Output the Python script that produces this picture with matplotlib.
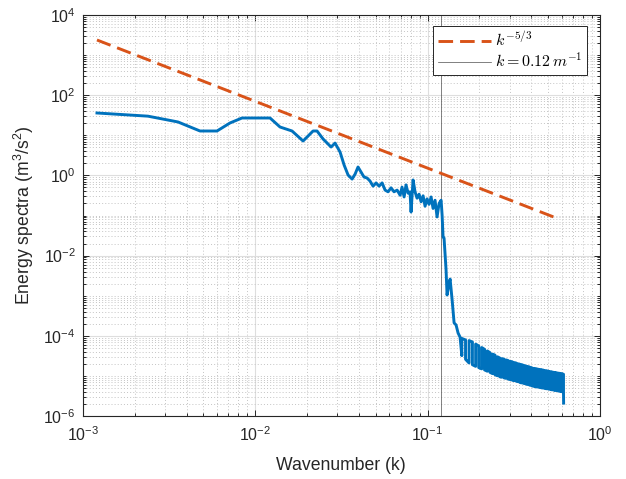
import numpy as np
import matplotlib
matplotlib.use("Agg")
import matplotlib.pyplot as plt
from matplotlib.ticker import FixedLocator, NullFormatter

plt.rcParams['font.family'] = ['Liberation Sans', 'DejaVu Sans']
plt.rcParams['mathtext.fontset'] = 'custom'
plt.rcParams['mathtext.rm'] = 'Liberation Sans'
plt.rcParams['mathtext.it'] = 'Liberation Sans:italic'
plt.rcParams['mathtext.bf'] = 'Liberation Sans:bold'

# energy spectrum
k_low = [0.00121, 0.00239, 0.00357, 0.00479, 0.00601, 0.00715, 0.00839, 0.0122,
         0.01394, 0.01637, 0.01897, 0.02167, 0.02286, 0.02477, 0.02756, 0.02907]
E_low = [36, 30, 21.5, 12.8, 12.8, 20.3, 27, 27,
         16.1, 12.8, 7.2, 12.8, 12.8, 8.1, 5.1, 6.4]

k_mid = [0.0311, 0.0328, 0.0346, 0.0365, 0.0380, 0.0395, 0.0411, 0.0428, 0.0446,
         0.0464, 0.0483, 0.0503, 0.0523, 0.0545, 0.0567, 0.0590, 0.0614, 0.0639,
         0.0666, 0.0693, 0.0711, 0.0731, 0.0750, 0.0771, 0.0791, 0.0802, 0.0824,
         0.0846, 0.0869, 0.0893, 0.0917, 0.0942, 0.0967, 0.0993, 0.1020, 0.1048,
         0.1076, 0.1105, 0.1135, 0.1166, 0.1198, 0.1214, 0.1230, 0.1246, 0.1280,
         0.1297, 0.1333, 0.1351, 0.1388, 0.1425, 0.1463, 0.1503, 0.1543]
E_mid = [3.8, 1.82, 1.02, 0.81, 1.08, 1.62, 1.22, 0.91, 0.86,
         0.72, 0.54, 0.65, 0.54, 0.65, 0.43, 0.39, 0.49, 0.39,
         0.43, 0.32, 0.51, 0.29, 0.58, 0.36, 0.39, 0.122, 0.77,
         0.39, 0.27, 0.34, 0.22, 0.31, 0.17, 0.26, 0.19, 0.29,
         0.15, 0.24, 0.092, 0.20, 0.24, 0.103, 0.029, 0.0275, 0.0044,
         0.00104, 0.0021, 0.0026, 7.8e-4, 2.1e-4, 1.86e-4, 1.17e-4, 9.3e-5]

# dissipation range: fast oscillation, read as top / bottom of the band
k_tail = [0.158, 0.166, 0.174, 0.182, 0.190, 0.198, 0.206, 0.214, 0.222, 0.230,
          0.238, 0.246, 0.254, 0.262, 0.270, 0.278, 0.286, 0.294, 0.302, 0.310,
          0.318, 0.326, 0.334, 0.342, 0.350, 0.358, 0.366, 0.374, 0.382, 0.390,
          0.398, 0.406, 0.414, 0.422, 0.430, 0.438, 0.446, 0.454, 0.462, 0.470,
          0.478, 0.486, 0.494, 0.502, 0.510, 0.518, 0.526, 0.534, 0.542, 0.550,
          0.558, 0.566, 0.574, 0.582, 0.590, 0.598, 0.606, 0.614]
E_tail_hi = [8.6e-5, 7.9e-5, 7.6e-5, 7.0e-5, 6.2e-5, 5.6e-5, 5.1e-5, 4.6e-5, 4.2e-5, 3.8e-5,
             3.5e-5, 3.3e-5, 3.0e-5, 2.8e-5, 2.7e-5, 2.6e-5, 2.5e-5, 2.4e-5, 2.3e-5, 2.25e-5,
             2.15e-5, 2.1e-5, 2.0e-5, 1.97e-5, 1.92e-5, 1.85e-5, 1.79e-5, 1.75e-5, 1.71e-5, 1.67e-5,
             1.62e-5, 1.56e-5, 1.54e-5, 1.52e-5, 1.49e-5, 1.47e-5, 1.45e-5, 1.43e-5, 1.41e-5, 1.39e-5,
             1.36e-5, 1.34e-5, 1.33e-5, 1.31e-5, 1.28e-5, 1.27e-5, 1.25e-5, 1.24e-5, 1.22e-5, 1.21e-5,
             1.19e-5, 1.18e-5, 1.17e-5, 1.16e-5, 1.15e-5, 1.13e-5, 1.12e-5, 1.10e-5]
E_tail_lo = [3.2e-5, 2.6e-5, 2.1e-5, 1.9e-5, 1.73e-5, 1.61e-5, 1.5e-5, 1.41e-5, 1.31e-5, 1.23e-5,
             1.14e-5, 1.07e-5, 1.01e-5, 9.5e-6, 9.3e-6, 8.9e-6, 8.7e-6, 8.3e-6, 8.1e-6, 7.8e-6,
             7.6e-6, 7.4e-6, 7.2e-6, 6.9e-6, 6.7e-6, 6.6e-6, 6.4e-6, 6.2e-6, 6.1e-6, 5.9e-6,
             5.8e-6, 5.6e-6, 5.5e-6, 5.4e-6, 5.3e-6, 5.3e-6, 5.2e-6, 5.1e-6, 5.0e-6, 5.0e-6,
             4.9e-6, 4.8e-6, 4.8e-6, 4.7e-6, 4.7e-6, 4.6e-6, 4.5e-6, 4.5e-6, 4.4e-6, 4.4e-6,
             4.3e-6, 4.3e-6, 4.2e-6, 4.2e-6, 4.1e-6, 4.1e-6, 4.0e-6, 3.9e-6]
k_end = [0.615]
E_end = [2.1e-6]

# k^-5/3 reference line end points
ref_k = [1.21e-3, 0.55]
ref_E = [2380, 0.0887]

k_cut = 0.12

# walk up and down through the band so the oscillation fills it
k_band, E_band = [], []
for i, kk in enumerate(k_tail):
    pair = (E_tail_lo[i], E_tail_hi[i]) if i % 2 == 0 else (E_tail_hi[i], E_tail_lo[i])
    k_band += [kk, kk]
    E_band += list(pair)

k = k_low + k_mid + k_band + k_end
E = E_low + E_mid + E_band + E_end

fig = plt.figure(figsize=(6.26, 4.79), dpi=100)
ax = fig.add_axes([0.1321, 0.1315, 0.8264, 0.8372])

ax.loglog(k, E, color='#0072BD', lw=2.1, solid_joinstyle='round', zorder=3)
ax.loglog(ref_k, ref_E, color='#D95319', lw=2.1, linestyle=(0, (5, 2.4)),
          label=r'$k^{-5/3}$', zorder=4)
ax.axvline(k_cut, color='0.3', lw=0.5, label=r'$k = 0.12\,m^{-1}$', zorder=2)

ax.set_xlim(1e-3, 1)
ax.set_ylim(1e-6, 1e4)

xmaj = [1e-3, 1e-2, 1e-1, 1e0]
xmin = [m * 10.0**p for p in range(-3, 0) for m in range(2, 10)]
ymaj = [1e-6, 1e-4, 1e-2, 1e0, 1e2, 1e4]
ymin = [m * 10.0**p for p in range(-6, 4) for m in range(2, 10)] + [1e-5, 1e-3, 1e-1, 1e1, 1e3]
ax.xaxis.set_major_locator(FixedLocator(xmaj))
ax.xaxis.set_minor_locator(FixedLocator(xmin))
ax.yaxis.set_major_locator(FixedLocator(ymaj))
ax.yaxis.set_minor_locator(FixedLocator(ymin))
ax.set_xticklabels([r'$10^{-3}$', r'$10^{-2}$', r'$10^{-1}$', r'$10^{0}$'])
ax.set_yticklabels([r'$10^{-6}$', r'$10^{-4}$', r'$10^{-2}$', r'$10^{0}$', r'$10^{2}$', r'$10^{4}$'])
ax.xaxis.set_minor_formatter(NullFormatter())
ax.yaxis.set_minor_formatter(NullFormatter())

ax.grid(True, which='major', color='#dedede', lw=0.8, linestyle='-', zorder=0)
ax.grid(True, which='minor', color='#c4c4c4', lw=0.7, linestyle=(0, (1, 2.2)), zorder=0)
ax.set_axisbelow(True)

ax.tick_params(which='both', direction='in', top=True, right=True, colors='#262626',
               labelsize=11.5, width=0.7)
ax.tick_params(which='major', length=4.5)
ax.tick_params(axis='x', which='major', pad=7)
ax.tick_params(axis='y', which='major', pad=5)
ax.tick_params(which='minor', length=2.5)
for s in ax.spines.values():
    s.set_color('#262626')
    s.set_linewidth(0.8)

ax.set_xlabel('Wavenumber (k)', fontsize=12.7, color='#262626', labelpad=9)
ax.set_ylabel('Energy spectra (m$^3$/s$^2$)', fontsize=12.7, color='#262626', labelpad=5)

leg = ax.legend(loc='upper right', bbox_to_anchor=(0.975, 0.973), borderaxespad=0,
                prop={'size': 11.5, 'math_fontfamily': 'cm'},
                handlelength=3.3, handletextpad=0.25, borderpad=0.3,
                labelspacing=0.15, fancybox=False, framealpha=1,
                edgecolor='#262626')
leg.get_frame().set_linewidth(0.7)

fig.savefig('out.png', dpi=100)
